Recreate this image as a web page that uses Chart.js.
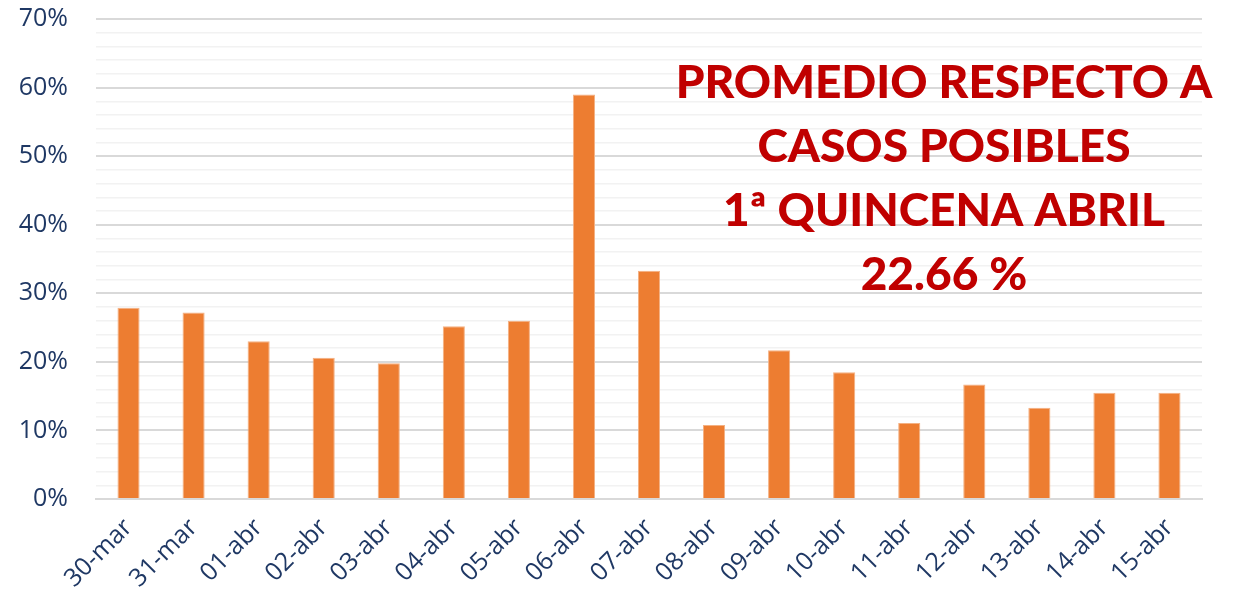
<!DOCTYPE html>
<html>
<head>
<meta charset="utf-8">
<script src="https://cdn.jsdelivr.net/npm/chart.js@4"></script>
<style>
  html, body { margin: 0; padding: 0; background: #fff; }
  #wrap { width: 1238px; height: 599px; }
</style>
</head>
<body>
<div id="wrap"><canvas id="chart" width="1238" height="599"></canvas></div>
<script>
const days = [
  "30-mar", "31-mar", "01-abr", "02-abr", "03-abr", "04-abr", "05-abr", "06-abr", "07-abr",
  "08-abr", "09-abr", "10-abr", "11-abr", "12-abr", "13-abr", "14-abr", "15-abr"
]
// percent of possible cases, per day
const pctValues = [
  27.9, 27.2, 23.0, 20.6, 19.8, 25.2, 26.0, 59.0, 33.3,
  10.8, 21.7, 18.5, 11.1, 16.7, 13.3, 15.5, 15.5
]
const noteLines = ["PROMEDIO RESPECTO A", "CASOS POSIBLES", "1ª QUINCENA ABRIL", "22.66 %"]

const NAVY = "#1F3864"
const RED = "#C00000"

const notePlugin = {
  id: "note",
  afterDraw(chart) {
    const ctx = chart.ctx
    ctx.save()
    ctx.fillStyle = RED
    ctx.textAlign = "center"
    ctx.textBaseline = "middle"
    ctx.font = "900 46px Lato"
    const cx = 944
    noteLines.forEach((line, i) => {
      ctx.fillText(line, cx, 83 + i * 64)
    })
    ctx.restore()
  }
}

new Chart(document.getElementById("chart"), {
  type: "bar",
  data: {
    labels: days,
    datasets: [{
      data: pctValues,
      backgroundColor: "#ED7D31",
      borderColor: "#F4B183",
      borderWidth: 1,
      barPercentage: 0.34,
      categoryPercentage: 1
    }]
  },
  options: {
    responsive: false,
    animation: false,
    devicePixelRatio: 1,
    layout: { padding: { top: 19, right: 36, left: 0, bottom: 0 } },
    plugins: { legend: { display: false }, tooltip: { enabled: false } },
    scales: {
      x: {
        grid: { display: false },
        border: { color: "#D9D9D9", width: 2 },
        ticks: {
          color: NAVY,
          font: { family: "Open Sans", size: 25 },
          minRotation: 45,
          maxRotation: 45,
          padding: 6,
          autoSkip: false
        },
        afterFit(scale) {
          scale.height = 100
          scale.paddingLeft = 0
          scale.paddingRight = 0
        }
      },
      y: {
        min: 0,
        max: 70,
        border: { display: false },
        grid: {
          drawTicks: false,
          color: ctx => (ctx.tick.value % 10 === 0 ? "#D9D9D9" : "#F2F2F2"),
          lineWidth: ctx => (ctx.tick.value % 10 === 0 ? 2 : 1.5)
        },
        ticks: {
          stepSize: 2,
          autoSkip: false,
          color: NAVY,
          padding: 28,
          font: { family: "Open Sans", size: 25 },
          callback: v => (v % 10 === 0 ? v + "%" : "")
        },
        afterFit(scale) {
          scale.width = 96
          scale.paddingTop = 0
          scale.paddingBottom = 0
        }
      }
    }
  },
  plugins: [notePlugin]
})
</script>
</body>
</html>
